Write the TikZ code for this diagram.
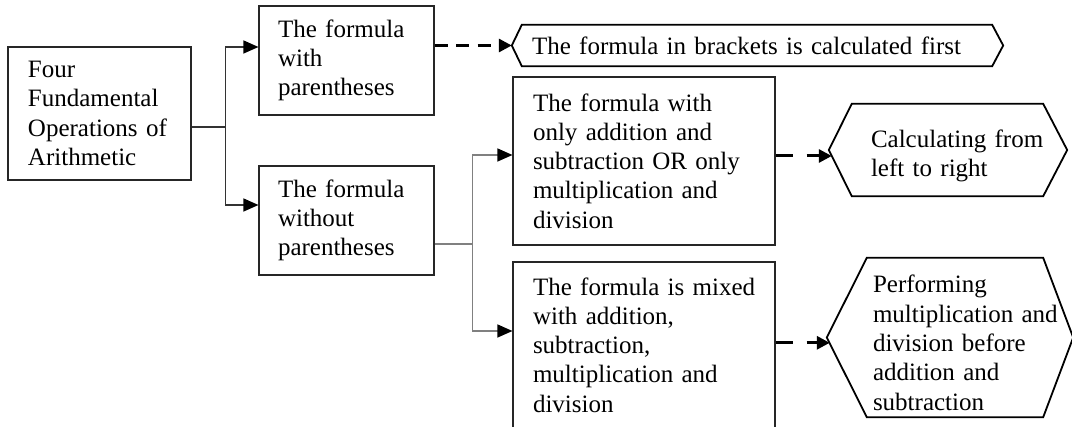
\documentclass[tikz,border=0pt]{standalone}
\usepackage{fontspec}
\setmainfont{Liberation Serif}
\usetikzlibrary{arrows.meta}
\newcommand\hexa[4]{\draw[hexline] ([yshift=#4]#1.west) -- ([xshift=#2,yshift=#4]#1.north west) -- ([xshift=-#3,yshift=#4]#1.north east) -- ([yshift=#4]#1.east) -- ([xshift=-#3,yshift=#4]#1.south east) -- ([xshift=#2,yshift=#4]#1.south west) -- cycle;}
\newcommand\lpad[1]{\leftskip=#1\rightskip=0pt plus 1fil\relax}
\begin{document}
\begin{tikzpicture}[x=1pt,y=-1pt,
  txt/.style={font=\fontsize{25}{29.3}\selectfont, inner sep=0pt, align=left, text=black},
  box/.style={txt, rectangle, draw=black!85, line width=1.1pt},
  hexnode/.style={txt, rectangle, draw=none},
  hexline/.style={draw=black, line width=1.8pt, line join=miter},
  conn/.style={draw=black!80, line width=1.2pt},
  conng/.style={draw=black!50, line width=1.2pt},
  solidtip/.style={-{Triangle[length=15pt,width=13pt,color=black]}},
  dasharrow/.style={draw=black, line width=3pt, -{Triangle[length=13pt,width=13pt]}},
]
\clip (0,0) rectangle (1072,427);

% boxes
\node[box, text width=183pt, minimum width=183pt, minimum height=133pt] (A) at (99.5,113.5)
  {\lpad{20pt}Four\\Fundamental\\Operations of\\Arithmetic\par};
\node[box, text width=175pt, minimum width=175pt, minimum height=109pt] (B) at (346.5,60.5)
  {\lpad{19pt}The formula\\with\\parentheses\par};
\node[box, text width=175pt, minimum width=175pt, minimum height=109pt] (C) at (346.5,220.5)
  {\lpad{19pt}The formula\\without\\parentheses\par};
\node[box, text width=262pt, minimum width=262pt, minimum height=168pt] (E) at (644,161)
  {\lpad{20pt}The formula with\\only addition and\\subtraction OR only\\multiplication and\\division\par};
\node[box, text width=262pt, minimum width=262pt, minimum height=166pt] (F) at (644,345)
  {\lpad{20pt}The formula is mixed\\with addition,\\subtraction,\\multiplication and\\division\par};

% hexagons
\node[hexnode, text width=491pt, minimum width=491pt, minimum height=41pt] (D) at (757.5,45.5)
  {\lpad{20pt}The formula in brackets is calculated first\par};
\node[hexnode, text width=238pt, minimum width=238pt, minimum height=92pt] (G) at (948,156)
  {\lpad{42pt}Calculating from\\left to right\par};
\node[hexnode, text width=246pt, minimum width=246pt, minimum height=159pt] (H) at (950,342.8)
  {\lpad{46pt}Performing\\multiplication and\\division before\\addition and\\subtraction\par};
\hexa{D}{10pt}{11pt}{0pt}
\hexa{G}{23pt}{24pt}{6pt}
\hexa{H}{40pt}{30pt}{5.3pt}

% connectors from A
\coordinate (ja) at ([yshift=-13.5pt]A.east);
\draw[conn] (ja) -- ++(34,0) coordinate (jb);
\draw[conn, solidtip] (jb) |- ([yshift=13.5pt]B.west);
\draw[conn, solidtip] (jb) |- ([yshift=15.5pt]C.west);

% connectors from C
\coordinate (jc) at ([yshift=-23.5pt]C.east);
\draw[conng] (jc) -- ++(38,0) coordinate (jd);
\draw[conng, solidtip] (jd) |- ([yshift=6pt]E.west);
\draw[conng, solidtip] (jd) |- ([yshift=14pt]F.west);

% dashed arrows
\draw[dasharrow, dash pattern=on 13pt off 8.5pt] (D.west -| B.east) -- (D.west);
\draw[dasharrow, dash pattern=on 17pt off 14pt, shorten >=-3pt] (G.west -| E.east) -- (G.west);
\draw[dasharrow, dash pattern=on 17pt off 14pt, shorten >=-3pt] (H.west -| F.east) -- (H.west);
\end{tikzpicture}
\end{document}
